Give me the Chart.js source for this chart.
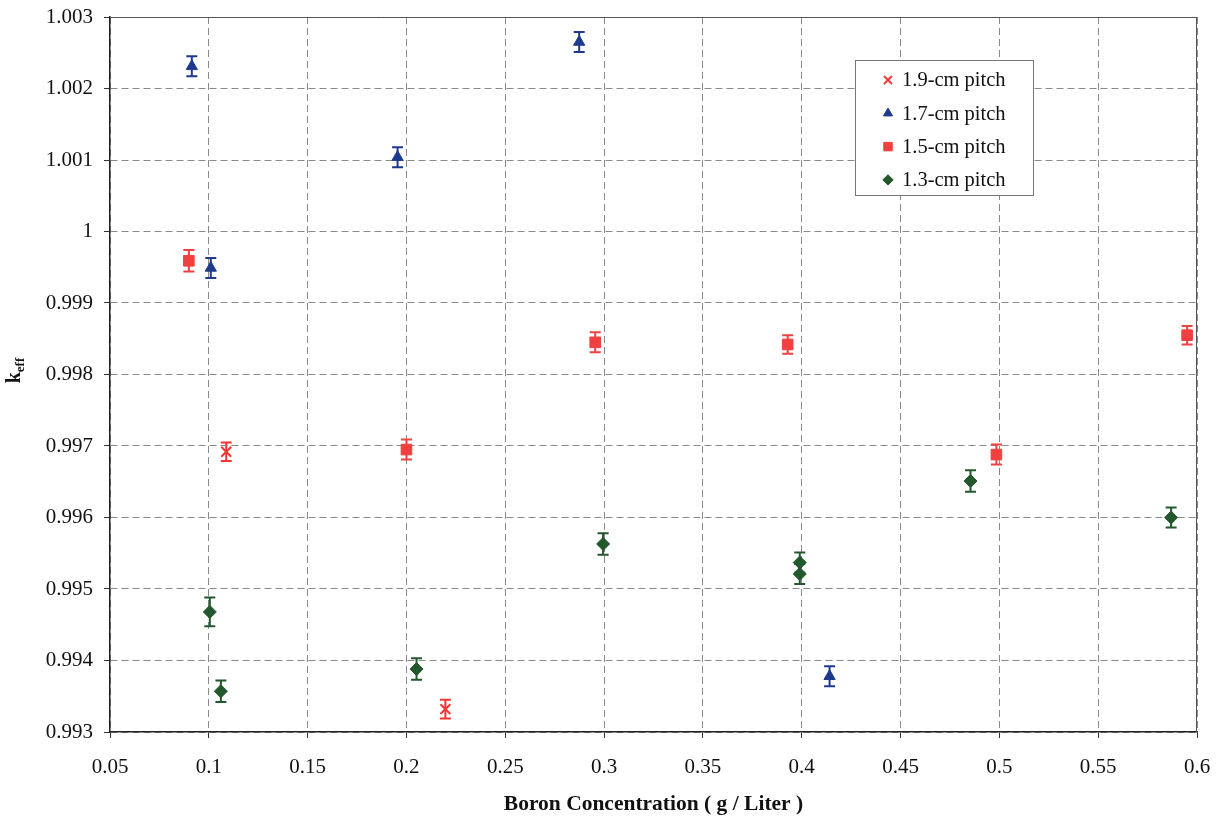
<!DOCTYPE html>
<html><head><meta charset="utf-8">
<script src="https://cdn.jsdelivr.net/npm/chart.js@4/dist/chart.umd.min.js"></script>
<style>html,body{margin:0;padding:0;background:#fff;}</style>
</head><body>
<canvas id="c" width="1216" height="818"></canvas>
<script>
// ---- data ----
const seriesLabels = ['1.9-cm pitch', '1.7-cm pitch', '1.5-cm pitch', '1.3-cm pitch'];

const pitch19X   = [0.1088, 0.2197];
const pitch19Y   = [0.99692, 0.99332];
const pitch19Err = [0.00013, 0.00013];

const pitch17X   = [0.0914, 0.1010, 0.1955, 0.2874, 0.4141];
const pitch17Y   = [1.00231, 0.99949, 1.00104, 1.00265, 0.99378];
const pitch17Err = [0.00014, 0.00014, 0.00014, 0.00014, 0.00014];

const pitch15X   = [0.0899, 0.2000, 0.2955, 0.3929, 0.4985, 0.5950];
const pitch15Y   = [0.99959, 0.99695, 0.99845, 0.99842, 0.99688, 0.99855];
const pitch15Err = [0.00015, 0.00014, 0.00014, 0.00013, 0.00014, 0.00013];

const pitch13X   = [0.1005, 0.1061, 0.2051, 0.2995, 0.3990, 0.3990, 0.4854, 0.5869];
const pitch13Y   = [0.99468, 0.99357, 0.99388, 0.99563, 0.99537, 0.99521, 0.99651, 0.99600];
const pitch13Err = [0.00020, 0.00015, 0.00015, 0.00015, 0.00014, 0.00014, 0.00015, 0.00014];

const xTickValues = [0.05, 0.1, 0.15, 0.2, 0.25, 0.3, 0.35, 0.4, 0.45, 0.5, 0.55, 0.6];
const xTickLabels = ['0.05','0.1','0.15','0.2','0.25','0.3','0.35','0.4','0.45','0.5','0.55','0.6'];
const yTickValues = [0.993, 0.994, 0.995, 0.996, 0.997, 0.998, 0.999, 1.000, 1.001, 1.002, 1.003];
const yTickLabels = ['0.993','0.994','0.995','0.996','0.997','0.998','0.999','1','1.001','1.002','1.003'];

const xTitle = 'Boron Concentration ( g / Liter )';
const yTitleMain = 'k';
const yTitleSub = 'eff';

// ---- build ----
function pts(xs, ys, es) { return xs.map((x, i) => ({ x: x, y: ys[i], err: es[i] })); }

const FONT = '"Liberation Serif", "Times New Roman", serif';

const errorBars = {
  id: 'errorBars',
  afterDatasetsDraw(chart) {
    const ctx = chart.ctx, xs = chart.scales.x, ys = chart.scales.y;
    chart.data.datasets.forEach((ds, i) => {
      if (!chart.isDatasetVisible(i)) return;
      ctx.save();
      ctx.strokeStyle = ds.borderColor;
      ctx.lineWidth = 2;
      ds.data.forEach(p => {
        const px = xs.getPixelForValue(p.x);
        const y1 = ys.getPixelForValue(p.y + p.err);
        const y2 = ys.getPixelForValue(p.y - p.err);
        ctx.beginPath();
        ctx.moveTo(px, y1); ctx.lineTo(px, y2);
        ctx.moveTo(px - 5.5, y1); ctx.lineTo(px + 5.5, y1);
        ctx.moveTo(px - 5.5, y2); ctx.lineTo(px + 5.5, y2);
        ctx.stroke();
      });
      ctx.restore();
    });
  }
};

const frameAndLabels = {
  id: 'frameAndLabels',
  afterDraw(chart) {
    const ctx = chart.ctx, a = chart.chartArea;
    ctx.save();
    ctx.strokeStyle = '#555';
    ctx.lineWidth = 1;
    ctx.beginPath();
    ctx.moveTo(a.left, a.top + 0.5); ctx.lineTo(a.right, a.top + 0.5);
    ctx.moveTo(a.right - 0.5, a.top); ctx.lineTo(a.right - 0.5, a.bottom);
    ctx.stroke();
    // y title k_eff
    ctx.translate(14, (a.top + a.bottom) / 2 - 4);
    ctx.rotate(-Math.PI / 2);
    ctx.fillStyle = '#111';
    ctx.textBaseline = 'alphabetic';
    ctx.textAlign = 'left';
    ctx.font = 'bold 20px ' + FONT;
    const kw = ctx.measureText(yTitleMain).width;
    ctx.font = 'bold 13px ' + FONT;
    const sw = ctx.measureText(yTitleSub).width;
    const start = -(kw + sw) / 2;
    ctx.font = 'bold 20px ' + FONT;
    ctx.fillText(yTitleMain, start, 6);
    ctx.font = 'bold 13px ' + FONT;
    ctx.fillText(yTitleSub, start + kw, 10);
    ctx.restore();

    // legend
    ctx.save();
    const lx = a.right - 342, ly = a.top + 43, lw = 178, lh = 135;
    ctx.fillStyle = '#fff';
    ctx.fillRect(lx, ly, lw, lh);
    ctx.strokeStyle = '#777';
    ctx.lineWidth = 1;
    ctx.strokeRect(lx + 0.5, ly + 0.5, lw, lh);
    ctx.font = '20.5px ' + FONT;
    ctx.textBaseline = 'middle';
    ctx.textAlign = 'left';
    chart.data.datasets.forEach((ds, i) => {
      const cy = ly + 20 + i * 33.3;
      const cx = lx + 33;
      ctx.save();
      ctx.fillStyle = ds.backgroundColor;
      ctx.strokeStyle = ds.borderColor;
      ctx.lineWidth = ds.pointBorderWidth || 1;
      Chart.helpers.drawPoint(ctx, {
        pointStyle: ds.pointStyle, radius: ds.pointRadius * 0.8, rotation: 0,
        borderWidth: ds.pointBorderWidth || 1
      }, cx, cy);
      ctx.restore();
      ctx.fillStyle = '#111';
      ctx.fillText(ds.label, lx + 47, cy + 1);
    });
    ctx.restore();
  }
};

const RED_X = '#f53535', BLUE = '#1f3a8c', RED_SQ = '#f04040', GREEN = '#23582c';

new Chart(document.getElementById('c'), {
  type: 'scatter',
  data: {
    datasets: [
      { label: seriesLabels[0], data: pts(pitch19X, pitch19Y, pitch19Err), pointStyle: 'crossRot',
        pointRadius: 7, pointBorderWidth: 2, borderColor: RED_X, backgroundColor: RED_X },
      { label: seriesLabels[1], data: pts(pitch17X, pitch17Y, pitch17Err), pointStyle: 'triangle',
        pointRadius: 6.5, pointBorderWidth: 1, borderColor: BLUE, backgroundColor: BLUE },
      { label: seriesLabels[2], data: pts(pitch15X, pitch15Y, pitch15Err), pointStyle: 'rect',
        pointRadius: 7.5, pointBorderWidth: 1, borderColor: RED_SQ, backgroundColor: RED_SQ },
      { label: seriesLabels[3], data: pts(pitch13X, pitch13Y, pitch13Err), pointStyle: 'rectRot',
        pointRadius: 6.5, pointBorderWidth: 1, borderColor: GREEN, backgroundColor: GREEN }
    ]
  },
  options: {
    responsive: false,
    animation: false,
    layout: { padding: { top: 17, right: 19, left: 0, bottom: 0 } },
    plugins: { legend: { display: false }, tooltip: { enabled: false } },
    scales: {
      x: {
        type: 'linear', min: 0.05, max: 0.6,
        afterFit(s) { s.height = 86; s.paddingLeft = 0; s.paddingRight = 0; },
        afterBuildTicks(s) { s.ticks = xTickValues.map(v => ({ value: v })); },
        ticks: { callback: (v, i) => xTickLabels[i], font: { family: FONT, size: 21 }, color: '#111',
                 padding: 17, maxRotation: 0, autoSkip: false },
        grid: { color: '#8a8a8a', lineWidth: 1, tickLength: 6, tickColor: '#333' },
        border: { color: '#222', width: 1.5, dash: [7, 4] },
        title: { display: true, text: xTitle, font: { family: FONT, size: 21.5, weight: 'bold' },
                 color: '#111', padding: { top: 0, bottom: 1 } }
      },
      y: {
        type: 'linear', min: 0.993, max: 1.003,
        afterFit(s) { s.width = 110; s.paddingTop = 0; s.paddingBottom = 0; },
        afterBuildTicks(s) { s.ticks = yTickValues.map(v => ({ value: v })); },
        ticks: { callback: (v, i) => yTickLabels[i], font: { family: FONT, size: 21 }, color: '#111',
                 padding: 11, autoSkip: false },
        grid: { color: '#8a8a8a', lineWidth: 1, tickLength: 6, tickColor: '#333' },
        border: { color: '#222', width: 1.5, dash: [7, 4] }
      }
    }
  },
  plugins: [errorBars, frameAndLabels]
});
</script>
</body></html>
